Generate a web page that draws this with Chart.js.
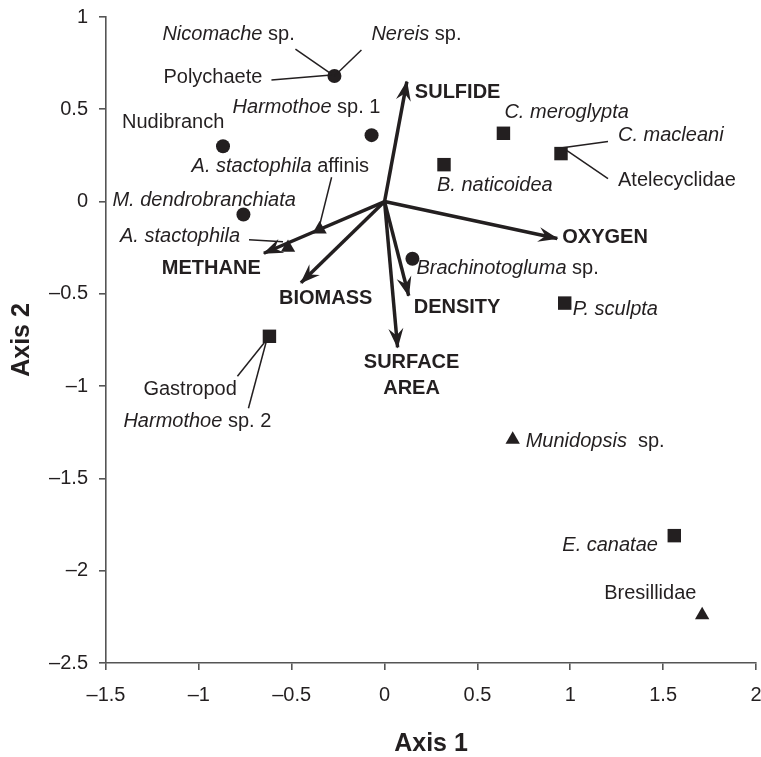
<!DOCTYPE html>
<html>
<head>
<meta charset="utf-8">
<script src="https://cdn.jsdelivr.net/npm/chart.js@4"></script>
<style>
  html, body { margin: 0; padding: 0; background: #fff; overflow: hidden; }
  canvas { display: block; }
</style>
</head>
<body>
<canvas id="chart" width="761" height="757"></canvas>
<script>
// taxa scores on axis 1 / axis 2
const circleNames = ["Polychaete", "Harmothoe sp. 1", "Nudibranch", "M. dendrobranchiata", "Brachinotogluma sp."];
const circleX = [-0.27, -0.07, -0.87, -0.76, 0.15];
const circleY = [0.68, 0.36, 0.30, -0.07, -0.31];

const squareNames = ["Gastropod", "C. meroglypta", "B. naticoidea", "C. macleani", "P. sculpta", "E. canatae"];
const squareX = [-0.62, 0.64, 0.32, 0.95, 0.97, 1.56];
const squareY = [-0.73, 0.37, 0.20, 0.26, -0.55, -1.81];

const triangleNames = ["A. stactophila affinis", "A. stactophila", "Munidopsis sp.", "Bresillidae"];
const triangleX = [-0.35, -0.52, 0.69, 1.71];
const triangleY = [-0.15, -0.25, -1.29, -2.24];

// environmental vectors (from origin)
const vectorNames = ["SULFIDE", "OXYGEN", "DENSITY", "SURFACE AREA", "BIOMASS", "METHANE"];
const vectorX = [0.12, 0.93, 0.13, 0.07, -0.45, -0.65];
const vectorY = [0.65, -0.20, -0.51, -0.79, -0.44, -0.28];

const xTicks = [-1.5, -1, -0.5, 0, 0.5, 1, 1.5, 2];
const yTicks = [-2.5, -2, -1.5, -1, -0.5, 0, 0.5, 1];

const INK = '#231f20';
const FONT = "'Liberation Sans', Arial, Helvetica, sans-serif";

// label placement, pixel offsets from the marker (parts: [text, italic])
const labelLayout = {
  "Polychaete": [
    { parts: [["Nicomache", 1], [" sp.", 0]], dx: -172, dy: -42, line: [-39, -27, 0, 0] },
    { parts: [["Nereis", 1], [" sp.", 0]], dx: 37, dy: -42, line: [27, -26, 0, 0] },
    { parts: [["Polychaete", 0]], dx: -171, dy: 1, line: [-63, 4, -3, -1] }
  ],
  "Harmothoe sp. 1": [{ parts: [["Harmothoe", 1], [" sp. 1", 0]], dx: -139, dy: -28 }],
  "Nudibranch": [{ parts: [["Nudibranch", 0]], dx: -101, dy: -24 }],
  "M. dendrobranchiata": [{ parts: [["M. dendrobranchiata", 1]], dx: -131, dy: -14 }],
  "Brachinotogluma sp.": [{ parts: [["Brachinotogluma", 1], [" sp.", 0]], dx: 4, dy: 10 }],
  "Gastropod": [
    { parts: [["Gastropod", 0]], dx: -126, dy: 53, line: [-32, 40, 0, 0] },
    { parts: [["Harmothoe", 1], [" sp. 2", 0]], dx: -146, dy: 85, line: [-21, 72, -2, 1] }
  ],
  "C. meroglypta": [{ parts: [["C. meroglypta", 1]], dx: 1, dy: -21 }],
  "B. naticoidea": [{ parts: [["B. naticoidea", 1]], dx: -7, dy: 21 }],
  "C. macleani": [
    { parts: [["C. macleani", 1]], dx: 57, dy: -18, line: [47, -12, -4, -5] },
    { parts: [["Atelecyclidae", 0]], dx: 57, dy: 27, line: [47, 25, 6, -3] }
  ],
  "P. sculpta": [{ parts: [["P. sculpta", 1]], dx: 8, dy: 6 }],
  "E. canatae": [{ parts: [["E. canatae", 1]], dx: -112, dy: 10 }],
  "A. stactophila affinis": [
    { parts: [["A. stactophila", 1], [" affinis", 0]], dx: -128, dy: -63, line: [12, -52, 0, -4] }
  ],
  "A. stactophila": [{ parts: [["A. stactophila", 1]], dx: -168, dy: -11, line: [-39, -8, -5, -6] }],
  "Munidopsis sp.": [{ parts: [["Munidopsis", 1], ["  sp.", 0]], dx: 13, dy: 2 }],
  "Bresillidae": [{ parts: [["Bresillidae", 0]], dx: -98, dy: -22 }]
};

// vector label placement, pixel offsets from arrow tip
const vectorLayout = {
  "SULFIDE": { lines: ["SULFIDE"], dx: 8, dy: 11, align: 'left' },
  "OXYGEN": { lines: ["OXYGEN"], dx: 5, dy: -1, align: 'left' },
  "DENSITY": { lines: ["DENSITY"], dx: 5, dy: 12, align: 'left' },
  "SURFACE AREA": { lines: ["SURFACE", "AREA"], dx: 14, dy: 15, align: 'center' },
  "BIOMASS": { lines: ["BIOMASS"], dx: -22, dy: 16, align: 'left' },
  "METHANE": { lines: ["METHANE"], dx: -102, dy: 15, align: 'left' }
};

function points(xs, ys, names) {
  return xs.map((v, i) => ({ x: v, y: ys[i], name: names[i] }));
}

const markerSets = [
  { data: points(circleX, circleY, circleNames), pointStyle: 'circle', pointRadius: 7 },
  { data: points(squareX, squareY, squareNames), pointStyle: 'rect', pointRadius: 9.5 },
  { data: points(triangleX, triangleY, triangleNames), pointStyle: 'triangle', pointRadius: 8.3 }
].map(d => Object.assign(d, {
  backgroundColor: INK, borderColor: INK, borderWidth: 0, showLine: false
}));

const vectorSets = vectorNames.map((n, i) => ({
  label: n,
  data: [{ x: 0, y: 0 }, { x: vectorX[i], y: vectorY[i] }],
  showLine: true,
  borderColor: INK,
  borderWidth: 3.5,
  pointRadius: 0
}));

function drawParts(ctx, parts, x, y) {
  parts.forEach(([t, it]) => {
    ctx.font = (it ? 'italic ' : '') + '20px ' + FONT;
    ctx.fillText(t, x, y);
    x += ctx.measureText(t).width;
  });
}

const annotate = {
  id: 'annotate',
  afterDatasetsDraw(chart) {
    const { ctx, scales: { x, y } } = chart;
    ctx.save();
    ctx.fillStyle = INK;
    ctx.strokeStyle = INK;

    // arrow heads
    vectorNames.forEach((n, i) => {
      const x0 = x.getPixelForValue(0), y0 = y.getPixelForValue(0);
      const x1 = x.getPixelForValue(vectorX[i]), y1 = y.getPixelForValue(vectorY[i]);
      const a = Math.atan2(y1 - y0, x1 - x0);
      ctx.save();
      ctx.translate(x1, y1);
      ctx.rotate(a);
      ctx.beginPath();
      ctx.moveTo(1, 0);
      ctx.lineTo(-19, -7.5);
      ctx.lineTo(-12, 0);
      ctx.lineTo(-19, 7.5);
      ctx.closePath();
      ctx.fill();
      ctx.restore();

      const L = vectorLayout[n];
      ctx.font = 'bold 20px ' + FONT;
      ctx.textAlign = L.align;
      ctx.textBaseline = 'middle';
      L.lines.forEach((t, k) => ctx.fillText(t, x1 + L.dx, y1 + L.dy + k * 26));
    });

    // taxa labels and leader lines
    ctx.textAlign = 'left';
    ctx.textBaseline = 'middle';
    ctx.lineWidth = 1.5;
    chart.data.datasets.forEach(ds => {
      if (ds.showLine) return;
      ds.data.forEach(p => {
        const px = x.getPixelForValue(p.x), py = y.getPixelForValue(p.y);
        (labelLayout[p.name] || []).forEach(l => {
          drawParts(ctx, l.parts, px + l.dx, py + l.dy);
          if (l.line) {
            ctx.beginPath();
            ctx.moveTo(px + l.line[0], py + l.line[1]);
            ctx.lineTo(px + l.line[2], py + l.line[3]);
            ctx.stroke();
          }
        });
      });
    });
    ctx.restore();
  }
};

const fmt = v => (v < 0 ? '\u2013' + Math.abs(v) : String(v));

const axisBase = (ticks, title, pad) => ({
  type: 'linear',
  min: ticks[0],
  max: ticks[ticks.length - 1],
  afterBuildTicks: s => { s.ticks = ticks.map(v => ({ value: v })); },
  border: { display: true, color: '#555', width: 1.6 },
  grid: { display: true, drawOnChartArea: false, tickLength: 7, color: '#555', lineWidth: 1.6 },
  ticks: { callback: fmt, color: INK, font: { family: FONT, size: 20 }, padding: pad },
  title: { display: true, text: title, color: INK, font: { family: FONT, size: 25, weight: 'bold', lineHeight: 1 } }
});

const xAxis = axisBase(xTicks, 'Axis 1', 13);
xAxis.title.padding = { top: 0, bottom: 0 };
xAxis.afterFit = s => { s.height = 94; s.paddingLeft = 0; s.paddingRight = 0; };

const yAxis = axisBase(yTicks, 'Axis 2', 11);
yAxis.title.padding = { top: 9.5, bottom: 0 };
yAxis.afterFit = s => { s.width = 106; s.paddingTop = 0; s.paddingBottom = 0; };

new Chart(document.getElementById('chart'), {
  type: 'scatter',
  data: { datasets: markerSets.concat(vectorSets) },
  options: {
    responsive: false,
    animation: false,
    layout: { autoPadding: false, padding: { top: 17, right: 5, left: 0, bottom: 0 } },
    plugins: { legend: { display: false }, tooltip: { enabled: false } },
    scales: { x: xAxis, y: yAxis }
  },
  plugins: [annotate]
});
</script>
</body>
</html>
